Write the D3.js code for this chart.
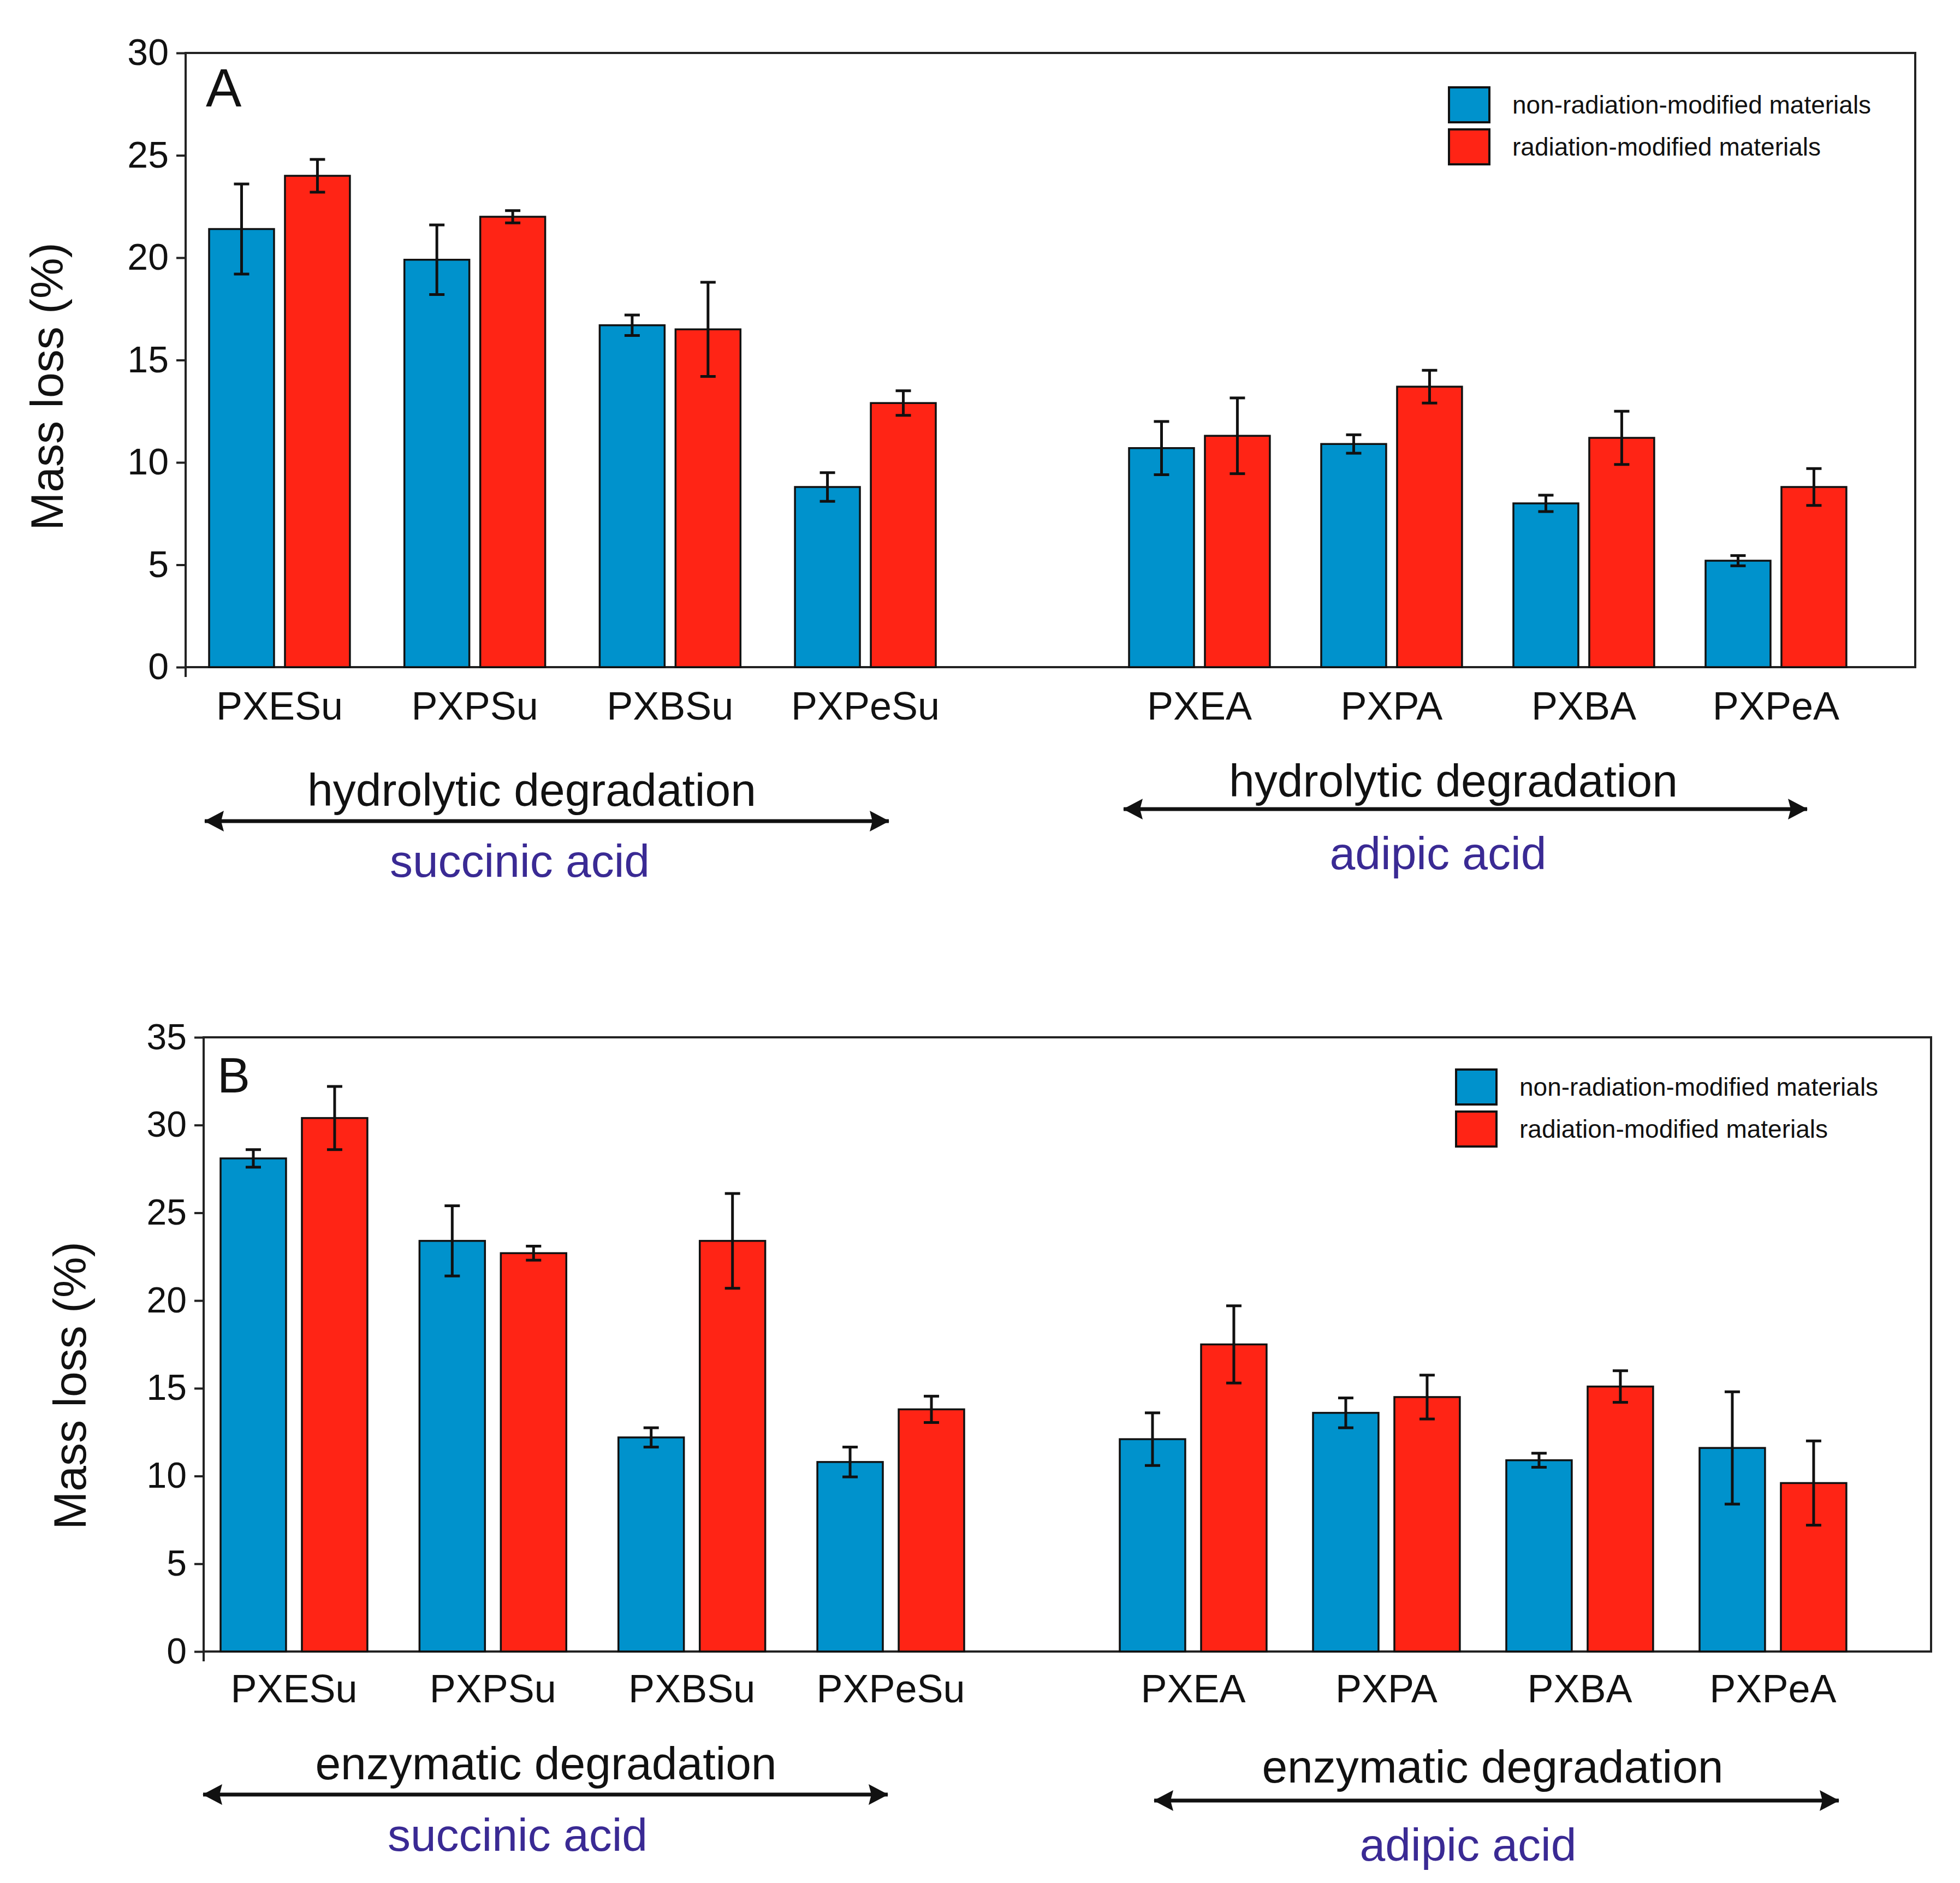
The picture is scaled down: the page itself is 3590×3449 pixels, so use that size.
<!DOCTYPE html>
<html>
<head>
<meta charset="utf-8">
<script src="https://cdn.jsdelivr.net/npm/d3@7"></script>
<style>
  body { margin: 0; background: #fff; }
  text { font-family: "Liberation Sans", Arial, sans-serif; }
</style>
</head>
<body>
<svg id="chart"></svg>
<script>
// categories and series
const succinicCats = ['PXESu', 'PXPSu', 'PXBSu', 'PXPeSu'];
const adipicCats = ['PXEA', 'PXPA', 'PXBA', 'PXPeA'];
const seriesNames = ['non-radiation-modified materials', 'radiation-modified materials'];

// A: hydrolytic degradation, mass loss (%)
const hydroNonRad = [21.4, 19.9, 16.7, 8.8, 10.7, 10.9, 8.0, 5.2];
const hydroNonRadErr = [2.2, 1.7, 0.5, 0.7, 1.3, 0.45, 0.4, 0.25];
const hydroRad = [24.0, 22.0, 16.5, 12.9, 11.3, 13.7, 11.2, 8.8];
const hydroRadErr = [0.8, 0.3, 2.3, 0.6, 1.85, 0.8, 1.3, 0.9];

// B: enzymatic degradation, mass loss (%)
const enzNonRad = [28.1, 23.4, 12.2, 10.8, 12.1, 13.6, 10.9, 11.6];
const enzNonRadErr = [0.5, 2.0, 0.55, 0.85, 1.5, 0.85, 0.4, 3.2];
const enzRad = [30.4, 22.7, 23.4, 13.8, 17.5, 14.5, 15.1, 9.6];
const enzRadErr = [1.8, 0.4, 2.7, 0.75, 2.2, 1.25, 0.9, 2.4];

const yTicksA = [0, 5, 10, 15, 20, 25, 30];
const yTicksB = [0, 5, 10, 15, 20, 25, 30, 35];

const colors = ['#0092cc', '#ff2415'];
const acidColor = '#3a2a94';

const W = 3590, H = 3449;
const svg = d3.select('#chart').attr('width', W).attr('height', H);
svg.append('rect').attr('width', W).attr('height', H).attr('fill', '#fff');

// arrow heads, tip sits on the line end
const defs = svg.append('defs');
['start', 'end'].forEach(k => {
    defs.append('marker')
        .attr('id', 'arrow-' + k)
        .attr('markerUnits', 'userSpaceOnUse')
        .attr('viewBox', '0 -20 36 40')
        .attr('refX', 35)
        .attr('refY', 0)
        .attr('markerWidth', 36)
        .attr('markerHeight', 40)
        .attr('orient', k === 'end' ? 'auto' : 'auto-start-reverse')
        .append('path')
        .attr('d', 'M0,-19 L36,0 L0,19 L5,0 Z')
        .attr('fill', '#111');
});

function drawPanel(p) {
    const g = svg.append('g');

    const y = d3.scaleLinear().domain([0, p.yMax]).range([p.bottom, p.top]);

    const xSu = d3.scaleBand().domain(succinicCats).range(p.suRange).paddingInner(p.suPad);
    const xAd = d3.scaleBand().domain(adipicCats).range(p.adRange).paddingInner(p.adPad);
    const xPos = c => succinicCats.includes(c) ? xSu(c) : xAd(c);
    const bw = xSu.bandwidth();
    const xSeries = d3.scaleBand().domain(seriesNames).range([0, bw]).paddingInner(p.innerPad);

    const cats = succinicCats.concat(adipicCats);
    const rows = [];
    cats.forEach((c, i) => {
        rows.push({ cat: c, s: seriesNames[0], v: p.vals[0][i], e: p.errs[0][i], color: colors[0] });
        rows.push({ cat: c, s: seriesNames[1], v: p.vals[1][i], e: p.errs[1][i], color: colors[1] });
    });

    // frame
    g.append('rect')
        .attr('x', p.left).attr('y', p.top)
        .attr('width', p.right - p.left).attr('height', p.bottom - p.top)
        .attr('fill', 'none').attr('stroke', '#222').attr('stroke-width', 4);

    // bars
    g.selectAll('.bar').data(rows).enter().append('rect')
        .attr('class', 'bar')
        .attr('x', d => xPos(d.cat) + xSeries(d.s))
        .attr('y', d => y(d.v))
        .attr('width', xSeries.bandwidth())
        .attr('height', d => y(0) - y(d.v))
        .attr('fill', d => d.color)
        .attr('stroke', '#111')
        .attr('stroke-width', 3.5);

    // error bars
    const eb = g.selectAll('.err').data(rows).enter().append('g').attr('class', 'err')
        .attr('stroke', '#111').attr('stroke-width', 5);
    const cx = d => xPos(d.cat) + xSeries(d.s) + xSeries.bandwidth() / 2;
    eb.append('line')
        .attr('x1', cx).attr('x2', cx)
        .attr('y1', d => y(d.v + d.e)).attr('y2', d => y(d.v - d.e));
    [1, -1].forEach(sgn => {
        eb.append('line')
            .attr('x1', d => cx(d) - 14).attr('x2', d => cx(d) + 14)
            .attr('y1', d => y(d.v + sgn * d.e)).attr('y2', d => y(d.v + sgn * d.e));
    });

    // y axis
    const yAxis = d3.axisLeft(y).tickValues(p.ticks).tickSize(17).tickPadding(14).tickSizeOuter(0);
    const ax = g.append('g').attr('transform', `translate(${p.left},0)`).call(yAxis);
    ax.select('.domain').remove();
    ax.selectAll('.tick line').attr('stroke', '#222').attr('stroke-width', 4);
    ax.selectAll('.tick text')
        .attr('font-size', p.tickFont)
        .attr('fill', '#111')
        .style('font-family', '"Liberation Sans", Arial, sans-serif');
    g.append('line')
        .attr('x1', p.left).attr('x2', p.left)
        .attr('y1', p.bottom).attr('y2', p.bottom + 18)
        .attr('stroke', '#222').attr('stroke-width', 4);

    g.append('text')
        .attr('transform', `translate(${p.yLabelX},${p.yLabelY}) rotate(-90)`)
        .attr('text-anchor', 'middle')
        .attr('dominant-baseline', 'central')
        .attr('font-size', 84)
        .attr('fill', '#111')
        .text('Mass loss (%)');

    // panel letter
    g.append('text')
        .attr('x', p.left + p.letterDx).attr('y', p.letterY)
        .attr('font-size', p.letterFont).attr('fill', '#111')
        .text(p.letter);

    // category labels
    g.selectAll('.cat').data(cats).enter().append('text')
        .attr('class', 'cat')
        .attr('x', c => xPos(c) + bw / 2)
        .attr('y', p.catY)
        .attr('text-anchor', 'middle')
        .attr('font-size', 72)
        .attr('fill', '#111')
        .text(c => c);

    // legend
    const lg = g.append('g');
    seriesNames.forEach((s, i) => {
        lg.append('rect')
            .attr('x', p.legX).attr('y', p.legY + i * p.legStep - 32)
            .attr('width', 74).attr('height', 64)
            .attr('fill', colors[i]).attr('stroke', '#111').attr('stroke-width', 4);
        lg.append('text')
            .attr('x', p.legX + 116).attr('y', p.legY + i * p.legStep)
            .attr('dominant-baseline', 'central')
            .attr('font-size', 46).attr('fill', '#111')
            .text(s);
    });

    // group annotations
    p.groups.forEach(a => {
        g.append('text')
            .attr('x', a.textX).attr('y', a.textY)
            .attr('text-anchor', 'middle').attr('font-size', 84).attr('fill', '#111')
            .text(a.label);
        g.append('line')
            .attr('x1', a.x1).attr('x2', a.x2).attr('y1', a.arrowY).attr('y2', a.arrowY)
            .attr('stroke', '#111').attr('stroke-width', 7)
            .attr('marker-start', 'url(#arrow-start)')
            .attr('marker-end', 'url(#arrow-end)');
        g.append('text')
            .attr('x', a.acidX).attr('y', a.acidY)
            .attr('text-anchor', 'middle').attr('font-size', 84).attr('fill', acidColor)
            .text(a.acid);
    });
}

drawPanel({
    letter: 'A', letterDx: 37, letterY: 195, letterFont: 98,
    left: 340, right: 3508, top: 97, bottom: 1222,
    yMax: 30, ticks: yTicksA, tickFont: 68,
    suRange: [383, 1714], suPad: 0.279,
    adRange: [2068, 3382], adPad: 0.267,
    innerPad: 0.144,
    vals: [hydroNonRad, hydroRad], errs: [hydroNonRadErr, hydroRadErr],
    yLabelX: 86, yLabelY: 708,
    catY: 1318,
    legX: 2654, legY: 192, legStep: 77,
    groups: [
        { label: 'hydrolytic degradation', textX: 974, textY: 1476, x1: 375, x2: 1628, arrowY: 1504, acid: 'succinic acid', acidX: 952, acidY: 1606 },
        { label: 'hydrolytic degradation', textX: 2662, textY: 1459, x1: 2058, x2: 3310, arrowY: 1482, acid: 'adipic acid', acidX: 2634, acidY: 1592 }
    ]
});

drawPanel({
    letter: 'B', letterDx: 25, letterY: 2001, letterFont: 90,
    left: 373, right: 3537, top: 1900, bottom: 3025,
    yMax: 35, ticks: yTicksB, tickFont: 66,
    suRange: [404, 1766], suPad: 0.262,
    adRange: [2051, 3382], adPad: 0.240,
    innerPad: 0.195,
    vals: [enzNonRad, enzRad], errs: [enzNonRadErr, enzRadErr],
    yLabelX: 128, yLabelY: 2538,
    catY: 3118,
    legX: 2667, legY: 1991, legStep: 77,
    groups: [
        { label: 'enzymatic degradation', textX: 1000, textY: 3259, x1: 372, x2: 1626, arrowY: 3287, acid: 'succinic acid', acidX: 948, acidY: 3390 },
        { label: 'enzymatic degradation', textX: 2734, textY: 3265, x1: 2114, x2: 3368, arrowY: 3298, acid: 'adipic acid', acidX: 2689, acidY: 3408 }
    ]
});
</script>
</body>
</html>
